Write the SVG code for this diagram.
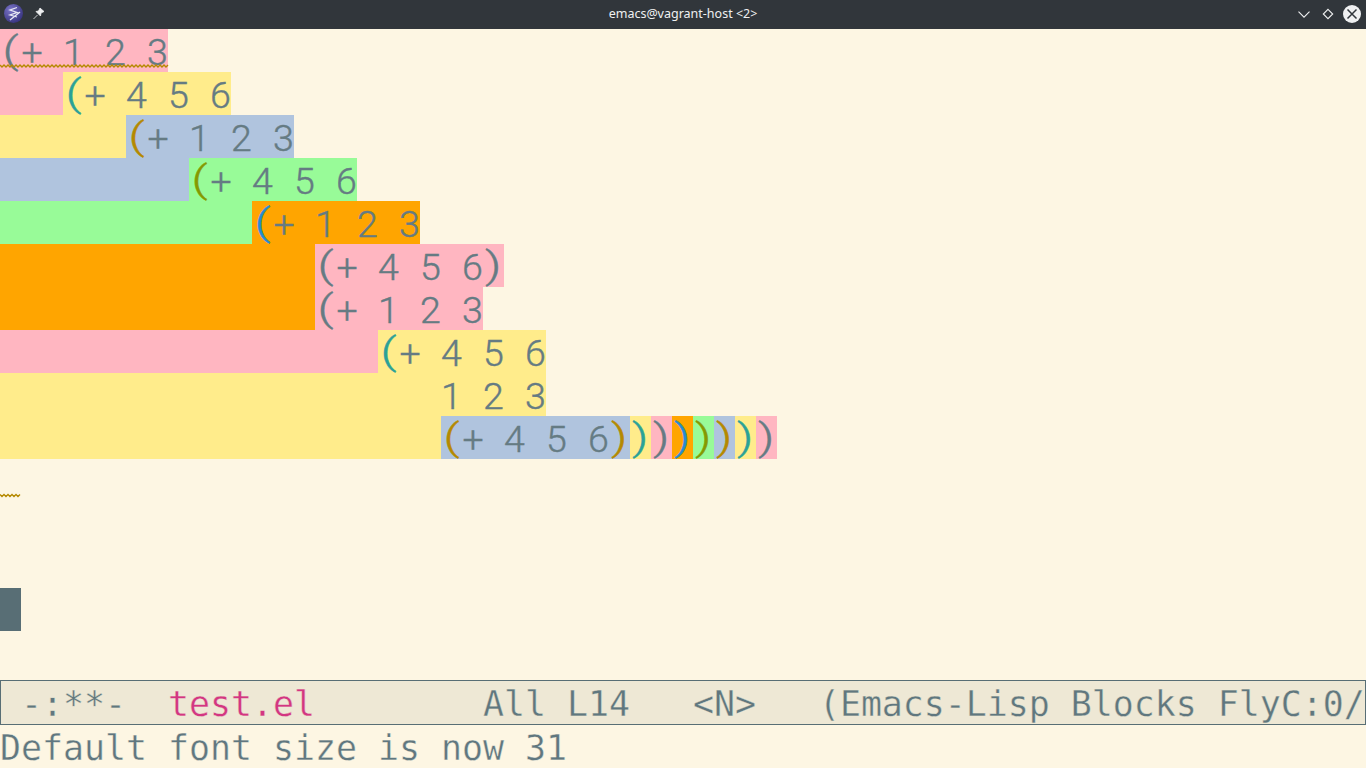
<svg xmlns="http://www.w3.org/2000/svg" width="1366" height="768" viewBox="0 0 1366 768">
<style>
text{white-space:pre}
.c{font-family:Roboto,"Liberation Sans",sans-serif;font-weight:300;font-size:37.5px;fill:#657b83;stroke:#657b83;stroke-width:0.4}
.p{font-family:Roboto,"Liberation Sans",sans-serif;font-weight:300;font-size:36px;fill:#657b83;stroke:#657b83;stroke-width:0.4}
.pk{fill:#ffb6c1}.yl{fill:#ffec8b}.bl{fill:#b0c4de}.gr{fill:#98fb98}.or{fill:#ffa500}
.t{fill:#2aa198;stroke:#2aa198}.y{fill:#b58900;stroke:#b58900}.o{fill:#859900;stroke:#859900}.b{fill:#268bd2;stroke:#268bd2}
.sq{fill:none;stroke:#b58900;stroke-width:1.4}
.m{font-family:"DejaVu Sans Mono","Liberation Mono",monospace;font-size:34.88px;fill:#60777f;stroke-width:0.35}
</style>
<defs>
<radialGradient id="em" cx="0.35" cy="0.3" r="0.8"><stop offset="0" stop-color="#7a74c8"/><stop offset="1" stop-color="#332f7a"/></radialGradient>
</defs>
<rect id="background" width="1366" height="768" fill="#fdf6e3"/>
<g id="titlebar">
<rect width="1366" height="29" fill="#31363b"/>
<circle cx="13.500" cy="13.500" r="9.500" fill="url(#em)"/>
<path d="M17 7.500L10 10L17 12.500L10 15L17 17M10 20L20 12" fill="none" stroke="#e8e8f4" stroke-width="1.300"/>
<path d="M33.500 19L37.500 15M36 11.500L40.500 16L41 13L44 11.500L40 8L38.500 11Z" fill="#eff0f1" stroke="#eff0f1" stroke-width="0.800"/>
<text x="683" y="18" text-anchor="middle" style="font-family:'Noto Sans',sans-serif" font-size="12.500" fill="#eff0f1">emacs@vagrant-host &lt;2&gt;</text>
<path d="M1298.500 11.700L1304 17.200L1309.500 11.700" fill="none" stroke="#eff0f1" stroke-width="1.100"/>
<path d="M1328 9.300L1332.700 14L1328 18.700L1323.300 14Z" fill="none" stroke="#eff0f1" stroke-width="1.100"/>
<circle cx="1352" cy="14" r="9" fill="#eff0f1"/>
<path d="M1347.500 9.500L1356.500 18.500M1356.500 9.500L1347.500 18.500" stroke="#31363b" stroke-width="1.500"/>
</g>
<g id="blocks">
<rect class="pk" x="0" y="29" width="168" height="43"/>
<rect class="pk" x="0" y="72" width="63" height="43"/>
<rect class="yl" x="63" y="72" width="168" height="43"/>
<rect class="yl" x="0" y="115" width="126" height="43"/>
<rect class="bl" x="126" y="115" width="168" height="43"/>
<rect class="bl" x="0" y="158" width="189" height="43"/>
<rect class="gr" x="189" y="158" width="168" height="43"/>
<rect class="gr" x="0" y="201" width="252" height="43"/>
<rect class="or" x="252" y="201" width="168" height="43"/>
<rect class="or" x="0" y="244" width="315" height="86"/>
<rect class="pk" x="315" y="244" width="189" height="43"/>
<rect class="pk" x="315" y="287" width="168" height="43"/>
<rect class="pk" x="0" y="330" width="378" height="43"/>
<rect class="yl" x="378" y="330" width="168" height="43"/>
<rect class="yl" x="0" y="373" width="546" height="43"/>
<rect class="yl" x="0" y="416" width="441" height="43"/>
<rect class="bl" x="441" y="416" width="189" height="43"/>
<rect class="yl" x="630" y="416" width="21" height="43"/>
<rect class="pk" x="651" y="416" width="21" height="43"/>
<rect class="or" x="672" y="416" width="21" height="43"/>
<rect class="gr" x="693" y="416" width="21" height="43"/>
<rect class="bl" x="714" y="416" width="21" height="43"/>
<rect class="yl" x="735" y="416" width="21" height="43"/>
<rect class="pk" x="756" y="416" width="21" height="43"/>
</g>
<g id="code">
<text class="c" y="65" x="21.500 63 105 147">+123</text>
<text class="c" y="108" x="84.500 126 168 210">+456</text>
<text class="c" y="151" x="147.500 189 231 273">+123</text>
<text class="c" y="194" x="210.500 252 294 336">+456</text>
<text class="c" y="237" x="273.500 315 357 399">+123</text>
<text class="c" y="280" x="336.500 378 420 462">+456</text>
<text class="c" y="323" x="336.500 378 420 462">+123</text>
<text class="c" y="366" x="399.500 441 483 525">+456</text>
<text class="c" y="409" x="441 483 525">123</text>
<text class="c" y="452" x="462.500 504 546 588">+456</text>
</g>
<g id="parens">
<text class="p" transform="translate(2.500 62.500) scale(1.4 1)">(</text>
<text class="p t" transform="translate(65.500 105.500) scale(1.4 1)">(</text>
<text class="p y" transform="translate(128.500 148.500) scale(1.4 1)">(</text>
<text class="p o" transform="translate(191.500 191.500) scale(1.4 1)">(</text>
<text class="p b" transform="translate(254.500 234.500) scale(1.4 1)">(</text>
<text class="p" transform="translate(317.500 277.500) scale(1.4 1)">(</text>
<text class="p" transform="translate(485 277.500) scale(1.4 1)">)</text>
<text class="p" transform="translate(317.500 320.500) scale(1.4 1)">(</text>
<text class="p t" transform="translate(380.500 363.500) scale(1.4 1)">(</text>
<text class="p y" transform="translate(443.500 449.500) scale(1.4 1)">(</text>
<text class="p y" transform="translate(611 449.500) scale(1.4 1)">)</text>
<text class="p t" transform="translate(632 449.500) scale(1.4 1)">)</text>
<text class="p" transform="translate(653 449.500) scale(1.4 1)">)</text>
<text class="p b" transform="translate(674 449.500) scale(1.4 1)">)</text>
<text class="p o" transform="translate(695 449.500) scale(1.4 1)">)</text>
<text class="p y" transform="translate(716 449.500) scale(1.4 1)">)</text>
<text class="p t" transform="translate(737 449.500) scale(1.4 1)">)</text>
<text class="p" transform="translate(758 449.500) scale(1.4 1)">)</text>
</g>
<g id="squiggles">
<path class="sq" d="M0 65L2 67L4 65L6 67L8 65L10 67L12 65L14 67L16 65L18 67L20 65L22 67L24 65L26 67L28 65L30 67L32 65L34 67L36 65L38 67L40 65L42 67L44 65L46 67L48 65L50 67L52 65L54 67L56 65L58 67L60 65L62 67L64 65L66 67L68 65L70 67L72 65L74 67L76 65L78 67L80 65L82 67L84 65L86 67L88 65L90 67L92 65L94 67L96 65L98 67L100 65L102 67L104 65L106 67L108 65L110 67L112 65L114 67L116 65L118 67L120 65L122 67L124 65L126 67L128 65L130 67L132 65L134 67L136 65L138 67L140 65L142 67L144 65L146 67L148 65L150 67L152 65L154 67L156 65L158 67L160 65L162 67L164 65L166 67L168 65"/>
<path class="sq" d="M0 494.500L2 496.500L4 494.500L6 496.500L8 494.500L10 496.500L12 494.500L14 496.500L16 494.500L18 496.500L20 494.500"/>
</g>
<rect id="cursor" x="0" y="588" width="21" height="43" fill="#586e75"/>
<g id="modeline">
<rect x="0.500" y="680.500" width="1365" height="44" fill="#eee8d5" stroke="#586e75"/>
<text class="m" stroke="#eee8d5" x="0" y="716"> -:**-  <tspan fill="#d33682">test.el</tspan>        All L14   &lt;N&gt;   (Emacs-Lisp Blocks FlyC:0/</text>
</g>
<g id="minibuffer">
<text class="m" stroke="#fdf6e3" x="0" y="760">Default font size is now 31</text>
</g>
</svg>
